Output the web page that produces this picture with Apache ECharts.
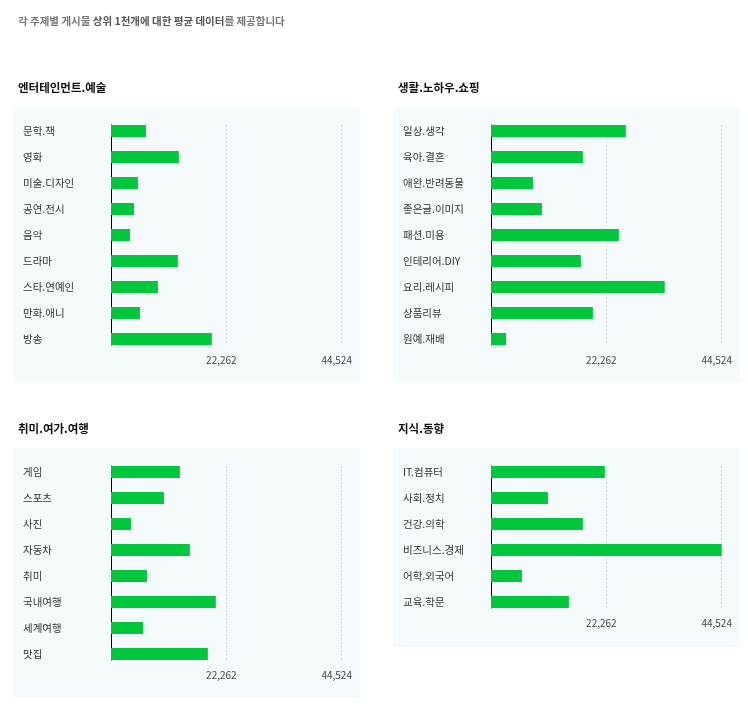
<!DOCTYPE html>
<html>
<head>
<meta charset="utf-8">
<script src="https://cdn.jsdelivr.net/npm/echarts@6/dist/echarts.min.js"></script>
<style>
  html, body { margin: 0; padding: 0; background: #fff; }
  #main { width: 748px; height: 709px; }
</style>
</head>
<body>
<div id="main"></div>
<script>
// 주제별 평균 데이터
var entCats = ['문학.책', '영화', '미술.디자인', '공연.전시', '음악', '드라마', '스타.연예인', '만화.애니', '방송'];
var entVals = [6750, 13100, 5200, 4430, 3660, 12910, 9060, 5590, 19460];

var lifeCats = ['일상.생각', '육아.결혼', '애완.반려동물', '좋은글.이미지', '패션.미용', '인테리어.DIY', '요리.레시피', '상품리뷰', '원예.재배'];
var lifeVals = [26020, 17730, 8090, 9830, 24670, 17340, 33530, 19660, 2890];

var hobbyCats = ['게임', '스포츠', '사진', '자동차', '취미', '국내여행', '세계여행', '맛집'];
var hobbyVals = [13300, 10210, 3850, 15220, 6940, 20230, 6170, 18690];

var knowCats = ['IT.컴퓨터', '사회.정치', '건강.의학', '비즈니스.경제', '어학.외국어', '교육.학문'];
var knowVals = [21970, 10980, 17730, 44524, 5970, 15030];

var tickValues = [22262, 44524];
var panelTitles = ['엔터테인먼트.예술', '생활.노하우.쇼핑', '취미.여가.여행', '지식.동향'];

var FONT = '"Noto Sans CJK KR", "Noto Sans", sans-serif';
var ROW = 26;

var myChart = echarts.init(document.getElementById('main'));

// 패널 배치 (x, 배경 top, 배경 bottom)
var panels = [
  { title: panelTitles[0], cats: entCats, vals: entVals, x: 13, top: 107, bottom: 382 },
  { title: panelTitles[1], cats: lifeCats, vals: lifeVals, x: 393, top: 107, bottom: 382 },
  { title: panelTitles[2], cats: hobbyCats, vals: hobbyVals, x: 13, top: 448, bottom: 698 },
  { title: panelTitles[3], cats: knowCats, vals: knowVals, x: 393, top: 448, bottom: 647 }
];

var titles = [{
  left: 13,
  top: 9,
  text: '{n|각 주제별 게시물 }{b|상위 1천개에 대한 평균 데이터}{n|를 제공합니다}',
  textStyle: {
    rich: {
      n: { fontFamily: FONT, fontSize: 10.5, color: '#777', lineHeight: 14 },
      b: { fontFamily: FONT, fontSize: 10.5, color: '#555', fontWeight: 'bold', lineHeight: 14 }
    }
  }
}];
var graphics = [];
var grids = [], xAxes = [], yAxes = [], series = [];

panels.forEach(function (p, i) {
  var n = p.cats.length;
  var axisLeft = p.x + 98;

  titles.push({
    left: p.x,
    top: p.top - 31,
    text: p.title,
    textStyle: { fontFamily: FONT, fontSize: 11.5, fontWeight: 'bold', color: '#111', lineHeight: 14 }
  });

  graphics.push({
    type: 'rect',
    z: -10,
    shape: { x: p.x, y: p.top, width: 347, height: p.bottom - p.top },
    style: { fill: '#f5fafd' }
  });

  // 막대용 grid
  grids.push({ left: axisLeft, width: 230.7, top: p.top + 11, height: ROW * n });
  // 축선/보조선용 grid
  grids.push({ left: axisLeft, width: 230.7, top: p.top + 18, height: ROW * n - 14 });

  var ga = i * 2, gb = i * 2 + 1;

  xAxes.push({
    gridIndex: ga, type: 'value', min: 0, max: tickValues[1], show: false
  });
  xAxes.push({
    gridIndex: gb, type: 'value', min: 0, max: tickValues[1], interval: tickValues[0],
    axisLine: { show: false },
    axisTick: { show: false },
    splitLine: { show: true, lineStyle: { color: '#d4d8dc', type: [2, 2], width: 1 } },
    axisLabel: {
      showMinLabel: false,
      margin: 10,
      padding: [0, 10, 0, 0],
      fontFamily: FONT, fontSize: 10, color: '#444',
      formatter: function (v) { return v.toLocaleString('en-US'); }
    }
  });

  yAxes.push({
    gridIndex: ga, type: 'category', inverse: true, data: p.cats,
    axisLine: { show: false },
    axisTick: { show: false },
    axisLabel: { align: 'left', margin: 88, fontFamily: FONT, fontSize: 10.5, color: '#333' }
  });
  yAxes.push({
    gridIndex: gb, type: 'category', inverse: true, data: p.cats,
    axisLine: { show: true, lineStyle: { color: '#000', width: 1 } },
    axisTick: { show: false },
    axisLabel: { show: false },
    splitLine: { show: false }
  });

  series.push({
    type: 'bar',
    xAxisIndex: ga,
    yAxisIndex: ga,
    data: p.vals,
    barWidth: 12,
    itemStyle: { color: '#00c73c' },
    silent: true
  });
});

var option = {
  backgroundColor: '#fff',
  animation: false,
  title: titles,
  graphic: graphics,
  grid: grids,
  xAxis: xAxes,
  yAxis: yAxes,
  series: series
};

myChart.setOption(option);
</script>
</body>
</html>
